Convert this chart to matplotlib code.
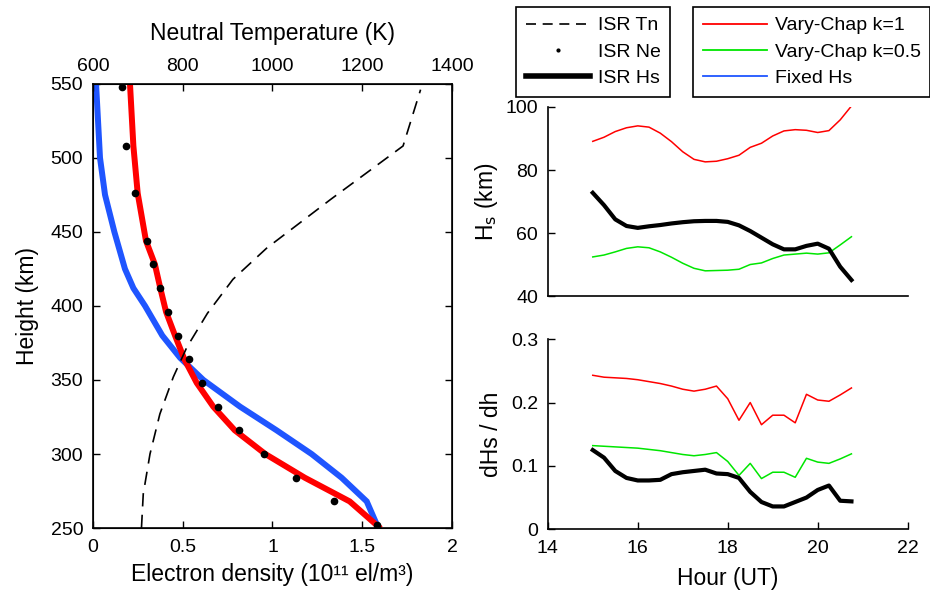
import matplotlib
matplotlib.use('Agg')
import matplotlib.pyplot as plt
from matplotlib.lines import Line2D

plt.rcParams['font.family'] = ['Liberation Sans', 'DejaVu Sans']

# left panel: electron density profile (1e11 el/m^3) vs height (km)
isr_h = [252, 268, 284, 300, 316, 332, 348, 364, 380, 396, 412, 428, 444, 476, 508, 548]
isr_ne = [1.58, 1.34, 1.13, 0.955, 0.813, 0.698, 0.609, 0.533, 0.472, 0.42, 0.375, 0.334,
          0.299, 0.234, 0.186, 0.16]

chap_h = [251, 268, 284, 300, 316, 332, 348, 364, 380, 396, 412, 428, 444, 476, 508, 550]
chap_ne = [1.59, 1.43, 1.18, 0.96, 0.79, 0.67, 0.578, 0.509, 0.457, 0.407, 0.375, 0.345,
           0.295, 0.249, 0.225, 0.206]

fixed_h = [251, 268, 284, 300, 316, 332, 350, 365, 380, 400, 412, 425, 450, 475, 500, 550]
fixed_ne = [1.586, 1.525, 1.385, 1.218, 1.023, 0.819, 0.615, 0.485, 0.386, 0.29, 0.225,
            0.178, 0.119, 0.067, 0.039, 0.017]

tn_h = [250, 273, 300, 327, 352, 372, 395, 418, 439, 472, 508, 546]
tn = [708, 712, 727, 749, 779, 809, 855, 912, 987, 1130, 1291, 1330]

# right panels: time series
hours = [15.0, 15.25, 15.5, 15.75, 16.0, 16.25, 16.5, 16.75, 17.0, 17.25, 17.5, 17.75,
         18.0, 18.25, 18.5, 18.75, 19.0, 19.25, 19.5, 19.75, 20.0, 20.25, 20.5, 20.75]

hs_k1 = [89.1, 90.4, 92.2, 93.4, 94.0, 93.6, 91.7, 89.0, 85.8, 83.4, 82.6, 82.8,
         83.6, 84.7, 87.2, 88.5, 90.8, 92.4, 92.8, 92.6, 91.9, 92.5, 95.9, 100.3]
hs_k05 = [52.5, 53.1, 54.1, 55.2, 55.7, 55.4, 54.1, 52.4, 50.5, 48.9, 48.1, 48.2,
          48.3, 48.6, 50.1, 50.6, 52.0, 53.1, 53.4, 53.7, 53.4, 53.8, 56.3, 58.9]
hs_isr = [72.8, 68.9, 64.4, 62.3, 61.7, 62.2, 62.6, 63.1, 63.5, 63.8, 63.9, 63.9,
          63.6, 62.5, 60.7, 58.6, 56.5, 54.9, 54.9, 56.0, 56.7, 55.1, 49.4, 45.2]

dhs_k1 = [0.243, 0.240, 0.239, 0.238, 0.236, 0.233, 0.230, 0.226, 0.221, 0.218, 0.221, 0.226,
          0.206, 0.172, 0.200, 0.165, 0.180, 0.180, 0.168, 0.213, 0.204, 0.202, 0.212, 0.223]
dhs_k05 = [0.132, 0.131, 0.130, 0.129, 0.128, 0.126, 0.124, 0.121, 0.118, 0.116, 0.118, 0.121,
           0.107, 0.085, 0.104, 0.080, 0.090, 0.090, 0.082, 0.112, 0.106, 0.104, 0.111, 0.119]
dhs_isr = [0.125, 0.113, 0.092, 0.081, 0.077, 0.077, 0.078, 0.087, 0.090, 0.092, 0.094, 0.088,
           0.087, 0.081, 0.059, 0.043, 0.036, 0.036, 0.043, 0.050, 0.062, 0.069, 0.045, 0.044]

RED = '#ff0000'
GREEN = '#00e600'
BLUE = '#1f55ff'
FS_TICK = 14
FS_LAB = 16.5

fig = plt.figure(figsize=(9.3, 5.94), dpi=100)

# ---- left panel
ax = fig.add_axes([0.1, 0.111, 0.386, 0.748])
ax.plot(fixed_ne, fixed_h, color=BLUE, lw=4.3, solid_joinstyle='miter')
ax.plot(chap_ne, chap_h, color=RED, lw=4.3, solid_joinstyle='miter')
ax.plot(isr_ne, isr_h, 'o', color='k', ms=4.5, zorder=5)
ax.set_xlim(0, 2)
ax.set_ylim(250, 550)
ax.set_xticks([0, 0.5, 1, 1.5, 2])
ax.set_xticklabels(['0', '0.5', '1', '1.5', '2'])
ax.set_yticks([250, 300, 350, 400, 450, 500, 550])
ax.tick_params(direction='in', labelsize=FS_TICK, right=True, length=5, width=1)
ax.tick_params(axis='x', pad=8)
ax.tick_params(axis='y', pad=7)
ax.set_xlabel('Electron density (10\u00b9\u00b9 el/m\u00b3)', fontsize=FS_LAB, labelpad=5)
ax.set_ylabel('Height (km)', fontsize=FS_LAB, labelpad=8)
for s in ax.spines.values():
    s.set_linewidth(1.2)

ax2 = ax.twiny()
ax2.plot(tn, tn_h, color='k', lw=1.2, ls='--', dashes=(8, 5))
ax2.set_xlim(600, 1400)
ax2.set_xticks([600, 800, 1000, 1200, 1400])
ax2.tick_params(direction='in', labelsize=FS_TICK, length=5, width=1, pad=6)
ax2.set_xlabel('Neutral Temperature (K)', fontsize=FS_LAB, labelpad=13)

# ---- right top
ax3 = fig.add_axes([0.589, 0.501, 0.387, 0.319])
ax3.plot(hours, hs_k1, color=RED, lw=1.1)
ax3.plot(hours, hs_k05, color=GREEN, lw=1.1)
ax3.plot(hours, hs_isr, color='k', lw=3)
ax3.set_xlim(14, 22)
ax3.set_ylim(40, 100)
ax3.set_yticks([40, 60, 80, 100])
ax3.tick_params(direction='in', labelsize=FS_TICK, bottom=False, labelbottom=False,
                length=5, width=1, pad=7)
ax3.set_ylabel(r'H$_\mathrm{s}$ (km)', fontsize=FS_LAB, labelpad=4)

# ---- right bottom
ax4 = fig.add_axes([0.589, 0.109, 0.387, 0.32])
ax4.plot(hours, dhs_k1, color=RED, lw=1.1)
ax4.plot(hours, dhs_k05, color=GREEN, lw=1.1)
ax4.plot(hours, dhs_isr, color='k', lw=3)
ax4.set_xlim(14, 22)
ax4.set_ylim(0, 0.3)
ax4.set_xticks([14, 16, 18, 20, 22])
ax4.set_yticks([0, 0.1, 0.2, 0.3])
ax4.set_yticklabels(['0', '0.1', '0.2', '0.3'])
ax4.tick_params(direction='in', labelsize=FS_TICK, length=5, width=1)
ax4.tick_params(axis='x', pad=8)
ax4.tick_params(axis='y', pad=7)
ax4.set_xlabel('Hour (UT)', fontsize=FS_LAB, labelpad=7)
ax4.set_ylabel('dHs / dh', fontsize=FS_LAB, labelpad=6)

for a in (ax3, ax4):
    a.spines['top'].set_visible(False)
    a.spines['right'].set_visible(False)
    a.spines['left'].set_linewidth(1.2)
    a.spines['bottom'].set_linewidth(1.2)

# ---- legends
h1 = [Line2D([], [], color='k', ls='--', lw=1.2, dashes=(6, 4)),
      Line2D([], [], color='k', marker='.', ls='none', ms=4),
      Line2D([], [], color='k', lw=4)]
leg1 = fig.legend(h1, ['ISR Tn', 'ISR Ne', 'ISR Hs'], loc='upper left',
                  bbox_to_anchor=(0.555, 0.988), borderaxespad=0, fontsize=14,
                  handlelength=3.3, handletextpad=0.4, labelspacing=0.45,
                  fancybox=False, edgecolor='k', framealpha=1, borderpad=0.5)
leg1.get_frame().set_linewidth(1.2)

h2 = [Line2D([], [], color=RED, lw=1.3),
      Line2D([], [], color=GREEN, lw=1.3),
      Line2D([], [], color=BLUE, lw=1.3)]
leg2 = fig.legend(h2, ['Vary-Chap k=1', 'Vary-Chap k=0.5', 'Fixed Hs'], loc='upper left',
                  bbox_to_anchor=(0.745, 0.988), borderaxespad=0, fontsize=14,
                  handlelength=3.3, handletextpad=0.4, labelspacing=0.45,
                  fancybox=False, edgecolor='k', framealpha=1, borderpad=0.5)
leg2.get_frame().set_linewidth(1.2)

fig.savefig('out.png', dpi=100)
